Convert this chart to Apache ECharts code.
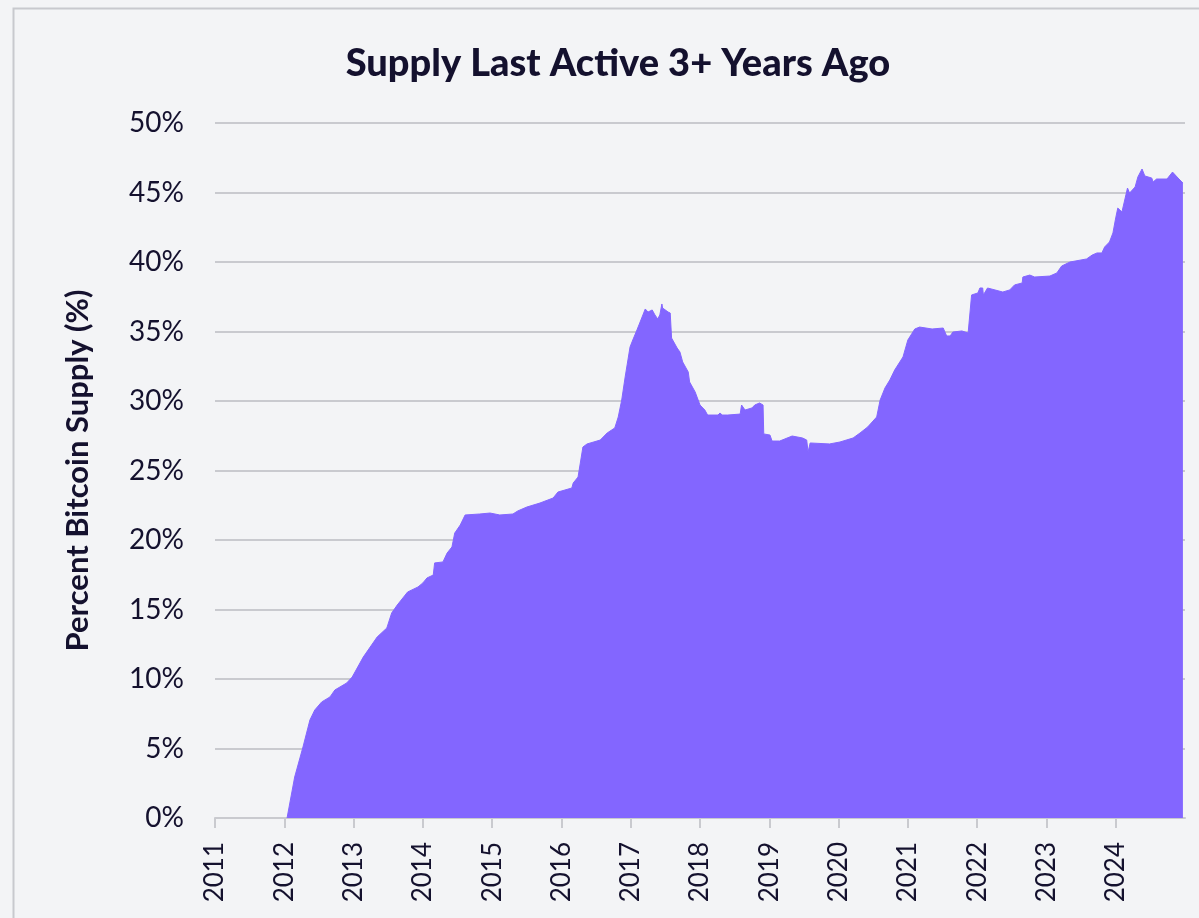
<!DOCTYPE html>
<html>
<head>
<meta charset="utf-8">
<style>
  html, body { margin: 0; padding: 0; background: #f3f4f6; }
  #chart { width: 1199px; height: 918px; }
</style>
<script src="https://cdn.jsdelivr.net/npm/echarts@6/dist/echarts.min.js"></script>
</head>
<body>
<div id="chart"></div>
<script>
// Share of bitcoin supply last moved 3+ years ago, sampled at decimal-year dates
const dates = [
  2012.04, 2012.15, 2012.27, 2012.37, 2012.44, 2012.54, 2012.66, 2012.73, 2012.90, 2012.98,
  2013.14, 2013.34, 2013.48, 2013.55, 2013.63, 2013.78, 2013.93, 2014.00, 2014.06, 2014.15,
  2014.17, 2014.29, 2014.35, 2014.42, 2014.46, 2014.54, 2014.61, 2014.82, 2014.97, 2015.11,
  2015.30, 2015.37, 2015.50, 2015.69, 2015.88, 2015.95, 2016.15, 2016.17, 2016.24, 2016.31,
  2016.37, 2016.56, 2016.66, 2016.77, 2016.82, 2016.87, 2016.92, 2016.99, 2017.03, 2017.09,
  2017.13, 2017.21, 2017.25, 2017.31, 2017.35, 2017.39, 2017.42, 2017.45, 2017.46, 2017.54,
  2017.57, 2017.59, 2017.67, 2017.71, 2017.75, 2017.83, 2017.85, 2017.93, 2018.00, 2018.07,
  2018.11, 2018.26, 2018.29, 2018.32, 2018.40, 2018.58, 2018.60, 2018.65, 2018.75, 2018.79,
  2018.86, 2018.91, 2018.92, 2019.01, 2019.04, 2019.15, 2019.33, 2019.48, 2019.54, 2019.56,
  2019.59, 2019.87, 2020.02, 2020.21, 2020.31, 2020.42, 2020.55, 2020.60, 2020.67, 2020.74,
  2020.81, 2020.93, 2021.00, 2021.10, 2021.17, 2021.35, 2021.51, 2021.56, 2021.61, 2021.65,
  2021.78, 2021.87, 2021.89, 2021.92, 2022.01, 2022.04, 2022.08, 2022.09, 2022.15, 2022.37,
  2022.47, 2022.54, 2022.65, 2022.66, 2022.76, 2022.83, 2023.05, 2023.15, 2023.22, 2023.34,
  2023.58, 2023.66, 2023.73, 2023.80, 2023.84, 2023.91, 2023.96, 2024.00, 2024.03, 2024.09,
  2024.13, 2024.17, 2024.20, 2024.28, 2024.32, 2024.38, 2024.42, 2024.52, 2024.54, 2024.59,
  2024.74, 2024.82, 2024.90, 2024.97
];
const supplyPct = [
  0.00, 2.95, 5.11, 7.05, 7.77, 8.35, 8.71, 9.21, 9.71, 10.14,
  11.58, 13.02, 13.67, 14.75, 15.32, 16.26, 16.62, 16.91, 17.27, 17.48,
  18.35, 18.42, 19.06, 19.50, 20.50, 21.08, 21.80, 21.87, 21.94, 21.80,
  21.87, 22.09, 22.37, 22.66, 23.02, 23.45, 23.74, 24.10, 24.53, 26.69,
  26.91, 27.19, 27.70, 28.06, 28.85, 30.07, 31.73, 33.88, 34.39, 35.11,
  35.61, 36.62, 36.40, 36.55, 36.19, 35.90, 36.19, 36.98, 36.69, 36.40,
  36.33, 34.53, 33.81, 33.53, 32.81, 32.09, 31.37, 30.65, 29.71, 29.35,
  28.99, 28.99, 29.14, 28.99, 28.99, 29.06, 29.71, 29.35, 29.50, 29.71,
  29.86, 29.71, 27.63, 27.55, 27.12, 27.12, 27.48, 27.34, 27.19, 26.33,
  26.98, 26.91, 27.05, 27.34, 27.70, 28.13, 28.85, 30.07, 30.94, 31.51,
  32.23, 33.17, 34.39, 35.18, 35.32, 35.18, 35.25, 34.68, 34.68, 34.96,
  35.04, 34.89, 34.89, 37.63, 37.77, 38.13, 38.13, 37.63, 38.13, 37.84,
  37.99, 38.35, 38.49, 38.92, 39.06, 38.92, 38.99, 39.21, 39.71, 40.00,
  40.22, 40.50, 40.65, 40.65, 41.08, 41.44, 42.09, 43.17, 43.88, 43.60,
  44.46, 45.32, 44.96, 45.40, 46.12, 46.69, 46.19, 46.04, 45.76, 45.97,
  45.97, 46.47, 46.04, 45.68
];
const yearTicks = [2011, 2012, 2013, 2014, 2015, 2016, 2017, 2018, 2019, 2020, 2021, 2022, 2023, 2024];

const textColor = '#14112e';
const gridColor = '#c9cacf';
const fillColor = '#8366ff';

const chart = echarts.init(document.getElementById('chart'), null, { renderer: 'canvas' });
chart.setOption({
  backgroundColor: '#f3f4f6',
  animation: false,
  textStyle: { fontFamily: 'Lato' },
  title: {
    text: 'Supply Last Active 3+ Years Ago',
    left: 613,
    top: 40,
    textAlign: 'center',
    textStyle: { fontFamily: 'Lato', fontWeight: 900, fontSize: 38, color: textColor }
  },
  graphic: [{
    type: 'rect',
    shape: { x: 13.5, y: 8.5, width: 1400, height: 1200 },
    style: { fill: 'none', stroke: '#c8c9ce', lineWidth: 2 },
    silent: true
  }],
  grid: { left: 215, right: 14, top: 123, bottom: 100, containLabel: false },
  xAxis: {
    type: 'value',
    min: 2011,
    max: 2025,
    interval: 1,
    axisLine: { show: true, lineStyle: { color: gridColor, width: 2 } },
    axisTick: { show: true, length: 10, lineStyle: { color: gridColor, width: 2 }, customValues: yearTicks },
    axisLabel: {
      rotate: 90,
      margin: 24,
      fontSize: 26,
      color: textColor,
      customValues: yearTicks,
      formatter: v => String(v)
    },
    splitLine: { show: false }
  },
  yAxis: {
    type: 'value',
    min: 0,
    max: 50,
    interval: 5,
    name: 'Percent Bitcoin Supply (%)',
    nameLocation: 'middle',
    nameRotate: 90,
    nameGap: 122,
    nameTextStyle: { fontFamily: 'Lato', fontWeight: 'bold', fontSize: 31, color: textColor },
    axisLine: { show: false },
    axisTick: { show: false },
    axisLabel: { margin: 31, fontSize: 28, color: textColor, formatter: v => v + '%' },
    splitLine: { lineStyle: { color: gridColor, width: 2 } }
  },
  series: [{
    type: 'line',
    data: dates.map((d, i) => [d, supplyPct[i]]),
    symbol: 'none',
    lineStyle: { color: fillColor, width: 1 },
    areaStyle: { color: fillColor, opacity: 1 },
    z: 3
  }]
});
</script>
</body>
</html>
